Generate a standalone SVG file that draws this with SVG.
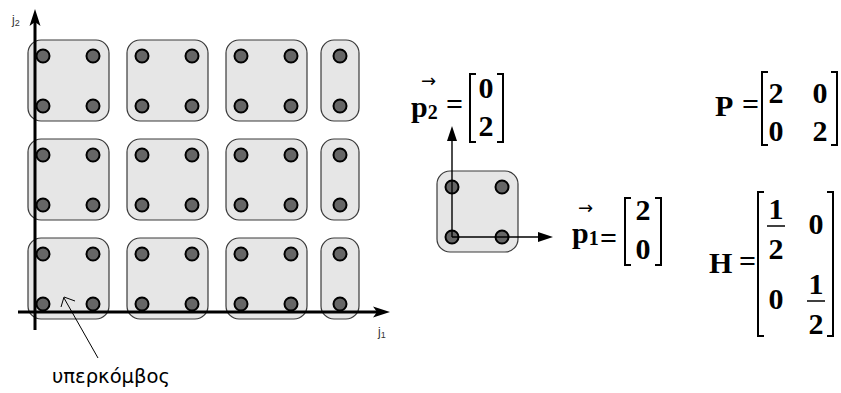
<svg xmlns="http://www.w3.org/2000/svg" width="841" height="393" viewBox="0 0 841 393">
<style>
.box{fill:#e6e6e6;stroke:#3a3a3a;stroke-width:1.2}
.dot{fill:#666;stroke:#000;stroke-width:2}
.axis{stroke:#000;stroke-width:3;fill:none}
.thin{stroke:#000;stroke-width:1.4;fill:none}
.br{stroke:#000;stroke-width:2;fill:none}
.m{font-family:"Liberation Serif",serif;font-weight:bold;font-size:30px;fill:#000}
.lbl{font-family:"Liberation Sans",sans-serif;font-size:12px;fill:#333}
.vec{font-family:"DejaVu Sans",sans-serif;font-size:18px;font-weight:normal;fill:#000}
</style>
<defs>
<g id="sq">
<rect class="box" x="0" y="0" width="81" height="81" rx="13"/>
<circle class="dot" cx="15" cy="16" r="6.5"/>
<circle class="dot" cx="65" cy="16" r="6.5"/>
<circle class="dot" cx="15" cy="66" r="6.5"/>
<circle class="dot" cx="65" cy="66" r="6.5"/>
</g>
<g id="half">
<rect class="box" x="0" y="0" width="38" height="81" rx="13"/>
<circle class="dot" cx="19" cy="16" r="6.5"/>
<circle class="dot" cx="19" cy="66" r="6.5"/>
</g>
</defs>

<g id="grid">
<g id="n11"><use href="#sq" x="28" y="40"/></g>
<g id="n12"><use href="#sq" x="127" y="40"/></g>
<g id="n13"><use href="#sq" x="226" y="40"/></g>
<g id="n14"><use href="#half" x="321" y="40"/></g>
<g id="n21"><use href="#sq" x="28" y="139"/></g>
<g id="n22"><use href="#sq" x="127" y="139"/></g>
<g id="n23"><use href="#sq" x="226" y="139"/></g>
<g id="n24"><use href="#half" x="321" y="139"/></g>
<g id="n31"><use href="#sq" x="28" y="238"/></g>
<g id="n32"><use href="#sq" x="127" y="238"/></g>
<g id="n33"><use href="#sq" x="226" y="238"/></g>
<g id="n34"><use href="#half" x="321" y="238"/></g>
</g>

<g id="connectors">
<line class="axis" x1="35" y1="330" x2="35" y2="20"/>
<path d="M35,9 L29.5,26 L35,22 L40.5,26 Z" fill="#000"/>
<line class="axis" x1="18" y1="312" x2="378" y2="312"/>
<path d="M390,312 L373,306.5 L377,312 L373,317.5 Z" fill="#000"/>
<line x1="98" y1="358" x2="64" y2="298" stroke="#000" stroke-width="1"/>
<polyline points="61,307 64,297 75,301" fill="none" stroke="#000" stroke-width="1"/>
</g>

<text class="lbl" x="12" y="24">j<tspan font-size="9" dy="2">2</tspan></text>
<text class="lbl" x="378" y="336">j<tspan font-size="9" dy="2">1</tspan></text>
<text x="52" y="383" font-family="DejaVu Sans, sans-serif" font-size="20" fill="#000" textLength="118" lengthAdjust="spacingAndGlyphs">υπερκόμβος</text>

<g id="unit">
<g id="node-unit"><use href="#sq" x="437" y="171"/></g>
<g id="unit-axes">
<line class="thin" x1="452" y1="237" x2="452" y2="138"/>
<path d="M452,126 L447,141 L457,141 Z" fill="#000"/>
<line class="thin" x1="452" y1="237" x2="541" y2="237"/>
<path d="M553,237 L538,232 L538,242 Z" fill="#000"/>
</g>
</g>

<g id="p2">
<text class="vec" x="421" y="87">→</text>
<text class="m" x="411" y="117">p<tspan font-size="20" dy="2">2</tspan></text>
<text class="m" x="446" y="114">=</text>
<path class="br" d="M476,74 H470 V142 H476 M497,74 H503 V142 H497"/>
<text class="m" x="486" y="98" text-anchor="middle">0</text>
<text class="m" x="486" y="136" text-anchor="middle">2</text>
</g>

<g id="p1">
<text class="vec" x="578" y="214">→</text>
<text class="m" x="572" y="243">p<tspan font-size="20" dy="2">1</tspan></text>
<text class="m" x="600" y="248">=</text>
<path class="br" d="M631,198 H625 V265 H631 M655,198 H661 V265 H655"/>
<text class="m" x="643" y="220" text-anchor="middle">2</text>
<text class="m" x="643" y="259" text-anchor="middle">0</text>
</g>

<g id="Pm">
<text class="m" x="715" y="116">P</text>
<text class="m" x="742" y="114">=</text>
<path class="br" d="M768,72 H762 V145 H768 M831,72 H837 V145 H831"/>
<text class="m" x="776" y="103" text-anchor="middle">2</text>
<text class="m" x="820" y="103" text-anchor="middle">0</text>
<text class="m" x="776" y="141" text-anchor="middle">0</text>
<text class="m" x="820" y="141" text-anchor="middle">2</text>
</g>

<g id="Hm">
<text class="m" x="709" y="273">H</text>
<text class="m" x="739" y="271">=</text>
<path class="br" d="M764,192 H758 V336 H764 M827,192 H833 V336 H827"/>
<text class="m" x="776" y="219" text-anchor="middle">1</text>
<line x1="767" y1="226" x2="785" y2="226" stroke="#000" stroke-width="1.5"/>
<text class="m" x="776" y="259" text-anchor="middle">2</text>
<text class="m" x="816" y="234" text-anchor="middle">0</text>
<text class="m" x="776" y="309" text-anchor="middle">0</text>
<text class="m" x="816" y="294" text-anchor="middle">1</text>
<line x1="807" y1="301" x2="825" y2="301" stroke="#000" stroke-width="1.5"/>
<text class="m" x="816" y="334" text-anchor="middle">2</text>
</g>
</svg>
